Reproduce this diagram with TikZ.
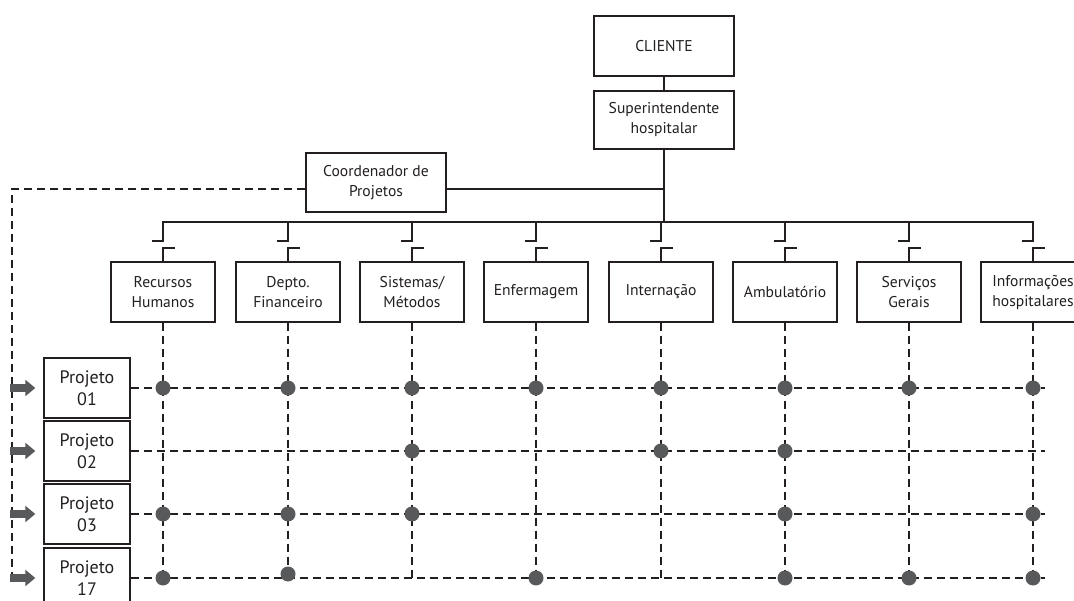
\documentclass[tikz,border=0pt]{standalone}
\usepackage{fontspec}
\setmainfont{PT Sans}
\usetikzlibrary{arrows.meta}
\definecolor{ink}{HTML}{231F20}
\definecolor{dotc}{HTML}{58595B}
\begin{document}
\begin{tikzpicture}[x=1pt,y=-1pt,
  box/.style={draw=ink, line width=1.4pt, fill=white, align=center, inner sep=0pt,
              font=\fontsize{15.6}{20}\selectfont, text=ink},
  topbox/.style={box, minimum width=140pt, minimum height=59pt},
  dept/.style={box, minimum width=104pt, minimum height=60pt},
  proj/.style={box, minimum width=86pt, minimum height=60pt, font=\fontsize{18}{22}\selectfont},
  wire/.style={draw=ink, line width=1.4pt},
  grid/.style={draw=ink, line width=1.2pt, dash pattern=on 8pt off 5pt},
  dot/.style={circle, fill=dotc, minimum size=15pt, inner sep=0pt},
  feed/.style={draw=dotc, line width=8pt, -{Triangle[width=16pt,length=10pt]}}
]
\useasboundingbox (0,0) rectangle (1074,601);

% top nodes
\node[topbox, minimum height=60pt] (cli) at (664,46) {CLIENTE};
\node[topbox, minimum height=58pt] (sup) at (664,120) {Superintendente\\hospitalar};
\node[topbox] (coord) at (376,182.5) {Coordenador de\\Projetos};

% department nodes
\foreach \i/\x/\t in {1/163/{Recursos\\Humanos},2/288/{Depto.\\Financeiro},3/412/{Sistemas/\\Métodos},
  4/536/{Enfermagem},5/661/{Internação},6/785/{Ambulatório},7/909/{Serviços\\Gerais},8/1033/{Informações\\hospitalares}}{
  \node[dept] (d\i) at (\x,292) {\t};
  \coordinate (c\i) at (\x,222);
}

% project nodes
\node[proj] (p1) at (87,388) {Projeto\\01};
\node[proj] (p2) at (87,451) {Projeto\\02};
\node[proj] (p3) at (87,514) {Projeto\\03};
\node[proj] (p4) at (87,578) {Projeto\\17};

% hierarchy wires
\draw[wire] (cli) -- (sup);
\draw[wire] (sup.south) -- (sup.south |- c1);
\draw[wire] ([yshift=-6.5pt]coord.east) -- ([yshift=-6.5pt]coord.east -| sup.south);
\draw[wire] (152,241) -- (163,241) -- (c1) -- (c8) -- (1033,241) -- (1022,241);
\foreach \i/\x in {2/288,3/412,4/536,5/661,6/785,7/909}{
  \draw[wire] (c\i) -- (\x,241) -- (\x-11,241);
}
\foreach \i/\x in {1/163,2/288,3/412,4/536,5/661,6/785,7/909,8/1033}{
  \draw[wire] (\x+12,248) -- (\x,248) -- (d\i.north);
}

% dashed feed from coordinator
\coordinate (lt) at (12,189);
\coordinate (lb) at (12,578);
\draw[grid] ([yshift=-6.5pt]coord.west) -- (lt) -- (lb);

% dashed matrix
\foreach \i/\x in {1/163,2/288,3/412,4/536,5/661,6/785,7/909,8/1033}{
  \draw[grid] (d\i.south) -- (\x,578);
}
\foreach \r/\y in {1/388,2/451,3/514,4/578}{
  \draw[grid] (p\r.east) -- (1045,\y);
  \coordinate (s\r) at (10,\y);
  \draw[feed, shorten >=8pt] (s\r) -- (p\r.west);
}

% dots
\foreach \x in {163,288,412,536,661,785,909,1033} \node[dot] at (\x,388) {};
\foreach \x in {412,661,785} \node[dot] at (\x,451) {};
\foreach \x in {163,288,412,785,1033} \node[dot] at (\x,514) {};
\foreach \x in {163,536,785,909,1033} \node[dot] at (\x,578) {};
\node[dot] at (288,574) {};
\end{tikzpicture}
\end{document}
